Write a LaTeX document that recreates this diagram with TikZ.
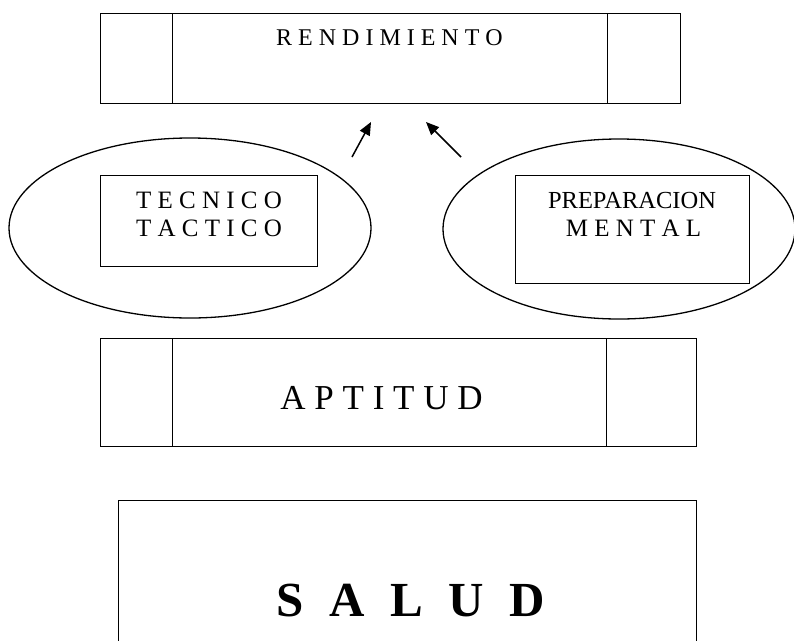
\documentclass[tikz,border=0pt]{standalone}
\usepackage{fontspec}
\setmainfont{Liberation Serif}
\usetikzlibrary{arrows.meta,shapes.geometric}
\begin{document}
\begin{tikzpicture}[x=1pt,y=-1pt,
  box/.style={draw,line width=1.4pt,rectangle,inner sep=0pt,anchor=north west},
  oval/.style={draw,line width=1.3pt,ellipse,inner sep=0pt},
  lbl/.style={inner sep=0pt,anchor=base},
  arr/.style={line width=1.5pt,-{Triangle[length=13pt,width=11pt]}}]
\useasboundingbox (0,0) rectangle (794,640);
\clip (0,0) rectangle (794,640);
% RENDIMIENTO
\node[box,minimum width=580pt,minimum height=90pt] (rendO) at (100,13) {};
\node[box,minimum width=435pt,minimum height=90pt] (rendI) at (172,13) {};
\node[lbl] (rendT) at (389.5,45) {\fontsize{24}{28}\selectfont R E N D I M I E N T O};
% ellipses
\node[oval,minimum width=362pt,minimum height=180pt] (ovL) at (190,228) {};
\node[oval,minimum width=352pt,minimum height=180pt] (ovR) at (619,229) {};
\node[box,minimum width=217pt,minimum height=91pt] (tecBox) at (100,175) {};
\node[lbl] (tec1) at (209,208) {\fontsize{25}{28}\selectfont T E C N I C O};
\node[lbl] (tec2) at (209,236) {\fontsize{25}{28}\selectfont T A C T I C O};
\node[box,minimum width=234pt,minimum height=108pt] (prepBox) at (515,175) {};
\node[lbl] (prep1) at (632,208) {\fontsize{24.5}{28}\selectfont PREPARACION};
\node[lbl] (prep2) at (633.5,236) {\fontsize{25}{28}\selectfont M E N T A L};
% arrows
\coordinate (aLt) at (352,157);
\coordinate (aLh) at (371,122);
\coordinate (aRt) at (461,157);
\coordinate (aRh) at (426,122);
\draw[arr] (aLt) -- (aLh);
\draw[arr] (aRt) -- (aRh);
% APTITUD
\node[box,minimum width=596pt,minimum height=108pt] (aptO) at (100,338) {};
\node[box,minimum width=434pt,minimum height=108pt] (aptI) at (172,338) {};
\node[lbl] (aptT) at (381.5,409) {\fontsize{35}{40}\selectfont A P T I T U D};
% SALUD
\node[box,minimum width=578pt,minimum height=170pt] (salBox) at (118,500) {};
\node[lbl] (salT) at (411,616) {\fontsize{49}{56}\selectfont\bfseries S\hspace{.52em}A\hspace{.52em}L\hspace{.52em}U\hspace{.52em}D};
\end{tikzpicture}
\end{document}
